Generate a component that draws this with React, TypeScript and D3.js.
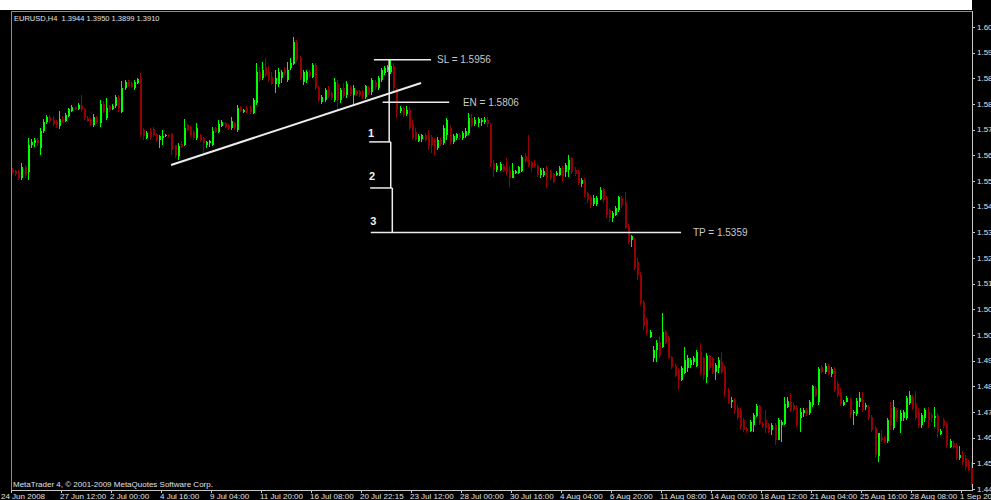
import React, { useEffect, useRef } from 'react';
import * as d3 from 'd3';

// EURUSD H4 bars, 24 Jun 2008 -> 1 Sep 2008
const opens = [
  1.5574, 1.5570, 1.5567, 1.5546, 1.5584, 1.5567, 1.5660, 1.5666, 1.5677, 1.5649,
  1.5708, 1.5738, 1.5756, 1.5745, 1.5738, 1.5725, 1.5749, 1.5742, 1.5759, 1.5776,
  1.5790, 1.5783, 1.5797, 1.5783, 1.5752, 1.5745, 1.5728, 1.5756, 1.5735, 1.5800,
  1.5752, 1.5793, 1.5783, 1.5793, 1.5821, 1.5773, 1.5855, 1.5876, 1.5872, 1.5855,
  1.5872, 1.5886, 1.5711, 1.5684, 1.5708, 1.5714, 1.5697, 1.5677, 1.5684, 1.5690,
  1.5694, 1.5697, 1.5660, 1.5622, 1.5663, 1.5660, 1.5728, 1.5721, 1.5704, 1.5684,
  1.5694, 1.5684, 1.5660, 1.5666, 1.5660, 1.5718, 1.5704, 1.5725, 1.5735, 1.5728,
  1.5718, 1.5735, 1.5711, 1.5790, 1.5773, 1.5787, 1.5787, 1.5769, 1.5804, 1.5910,
  1.5890, 1.5927, 1.5910, 1.5893, 1.5869, 1.5869, 1.5890, 1.5917, 1.5883, 1.5924,
  1.5937, 1.6013, 1.5958, 1.5876, 1.5883, 1.5910, 1.5893, 1.5934, 1.5855, 1.5807,
  1.5814, 1.5852, 1.5838, 1.5814, 1.5869, 1.5814, 1.5855, 1.5831, 1.5859, 1.5831,
  1.5845, 1.5845, 1.5841, 1.5824, 1.5855, 1.5841, 1.5876, 1.5855, 1.5883, 1.5907,
  1.5917, 1.5910, 1.5931, 1.5841, 1.5776, 1.5787, 1.5766, 1.5780, 1.5732, 1.5704,
  1.5673, 1.5680, 1.5694, 1.5690, 1.5687, 1.5677, 1.5649, 1.5677, 1.5666, 1.5694,
  1.5718, 1.5670, 1.5684, 1.5694, 1.5684, 1.5690, 1.5701, 1.5752, 1.5732, 1.5735,
  1.5738, 1.5738, 1.5745, 1.5728, 1.5598, 1.5574, 1.5574, 1.5588, 1.5588, 1.5574,
  1.5546, 1.5564, 1.5564, 1.5570, 1.5622, 1.5608, 1.5601, 1.5598, 1.5588, 1.5557,
  1.5557, 1.5581, 1.5567, 1.5560, 1.5557, 1.5557, 1.5581, 1.5567, 1.5574, 1.5615,
  1.5574, 1.5567, 1.5526, 1.5540, 1.5495, 1.5481, 1.5457, 1.5457, 1.5474, 1.5509,
  1.5478, 1.5437, 1.5409, 1.5420, 1.5437, 1.5478, 1.5464, 1.5382, 1.5334, 1.5334,
  1.5258, 1.5214, 1.5121, 1.5059, 1.5001, 1.4929, 1.4957, 1.4984, 1.4967, 1.5018,
  1.5001, 1.4933, 1.4902, 1.4888, 1.4854, 1.4878, 1.4895, 1.4905, 1.4915, 1.4902,
  1.4950, 1.4929, 1.4864, 1.4936, 1.4929, 1.4881, 1.4895, 1.4915, 1.4898, 1.4819,
  1.4778, 1.4785, 1.4758, 1.4751, 1.4716, 1.4689, 1.4679, 1.4699, 1.4730, 1.4764,
  1.4703, 1.4716, 1.4703, 1.4682, 1.4699, 1.4648, 1.4699, 1.4703, 1.4761, 1.4778,
  1.4768, 1.4758, 1.4723, 1.4740, 1.4751, 1.4740, 1.4768, 1.4826, 1.4778, 1.4898,
  1.4881, 1.4902, 1.4874, 1.4891, 1.4840, 1.4812, 1.4768, 1.4778, 1.4788, 1.4740,
  1.4737, 1.4778, 1.4785, 1.4761, 1.4761, 1.4727, 1.4689, 1.4593, 1.4658, 1.4655,
  1.4644, 1.4758, 1.4689, 1.4751, 1.4713, 1.4723, 1.4723, 1.4775, 1.4795, 1.4775,
  1.4744, 1.4699, 1.4723, 1.4744, 1.4734, 1.4723, 1.4734, 1.4668, 1.4716, 1.4703,
  1.4624, 1.4638, 1.4631, 1.4586, 1.4596, 1.4586, 1.4572, 1.4552,
];

const highs = [
  1.5581, 1.5574, 1.5574, 1.5598, 1.5591, 1.5684, 1.5680, 1.5684, 1.5684, 1.5718,
  1.5749, 1.5762, 1.5762, 1.5759, 1.5745, 1.5776, 1.5759, 1.5769, 1.5787, 1.5797,
  1.5793, 1.5804, 1.5831, 1.5787, 1.5759, 1.5752, 1.5766, 1.5759, 1.5814, 1.5811,
  1.5821, 1.5797, 1.5800, 1.5831, 1.5831, 1.5879, 1.5883, 1.5883, 1.5879, 1.5883,
  1.5890, 1.5907, 1.5718, 1.5708, 1.5718, 1.5721, 1.5701, 1.5694, 1.5711, 1.5697,
  1.5697, 1.5701, 1.5660, 1.5666, 1.5673, 1.5749, 1.5732, 1.5728, 1.5711, 1.5735,
  1.5697, 1.5687, 1.5673, 1.5677, 1.5721, 1.5721, 1.5745, 1.5745, 1.5738, 1.5732,
  1.5756, 1.5738, 1.5797, 1.5793, 1.5783, 1.5793, 1.5793, 1.5821, 1.5941, 1.5927,
  1.5944, 1.5958, 1.5931, 1.5910, 1.5917, 1.5924, 1.5917, 1.5927, 1.5944, 1.5958,
  1.6030, 1.6020, 1.5965, 1.5917, 1.5917, 1.5917, 1.5941, 1.5941, 1.5862, 1.5831,
  1.5855, 1.5862, 1.5845, 1.5890, 1.5883, 1.5855, 1.5872, 1.5879, 1.5865, 1.5865,
  1.5848, 1.5848, 1.5848, 1.5865, 1.5862, 1.5890, 1.5883, 1.5896, 1.5924, 1.5931,
  1.5934, 1.5951, 1.5941, 1.5855, 1.5793, 1.5793, 1.5793, 1.5790, 1.5745, 1.5718,
  1.5697, 1.5697, 1.5701, 1.5711, 1.5694, 1.5684, 1.5687, 1.5684, 1.5728, 1.5752,
  1.5728, 1.5697, 1.5701, 1.5701, 1.5708, 1.5718, 1.5769, 1.5766, 1.5756, 1.5756,
  1.5752, 1.5756, 1.5756, 1.5735, 1.5608, 1.5598, 1.5601, 1.5595, 1.5615, 1.5588,
  1.5598, 1.5574, 1.5588, 1.5625, 1.5632, 1.5694, 1.5605, 1.5608, 1.5595, 1.5581,
  1.5581, 1.5588, 1.5574, 1.5564, 1.5570, 1.5588, 1.5588, 1.5598, 1.5625, 1.5618,
  1.5584, 1.5574, 1.5546, 1.5546, 1.5498, 1.5488, 1.5488, 1.5485, 1.5516, 1.5513,
  1.5485, 1.5444, 1.5433, 1.5450, 1.5485, 1.5485, 1.5498, 1.5389, 1.5351, 1.5341,
  1.5272, 1.5224, 1.5128, 1.5066, 1.5025, 1.4970, 1.4991, 1.5005, 1.5083, 1.5025,
  1.5005, 1.4936, 1.4908, 1.4895, 1.4902, 1.4967, 1.4939, 1.4929, 1.4936, 1.4957,
  1.4981, 1.4933, 1.4946, 1.4939, 1.4933, 1.4912, 1.4933, 1.4950, 1.4905, 1.4826,
  1.4795, 1.4792, 1.4768, 1.4758, 1.4723, 1.4692, 1.4716, 1.4740, 1.4771, 1.4768,
  1.4710, 1.4751, 1.4706, 1.4706, 1.4706, 1.4723, 1.4716, 1.4795, 1.4795, 1.4809,
  1.4775, 1.4768, 1.4758, 1.4758, 1.4758, 1.4785, 1.4836, 1.4833, 1.4898, 1.4905,
  1.4912, 1.4908, 1.4898, 1.4898, 1.4850, 1.4826, 1.4785, 1.4799, 1.4795, 1.4751,
  1.4792, 1.4812, 1.4812, 1.4775, 1.4768, 1.4734, 1.4696, 1.4672, 1.4682, 1.4662,
  1.4723, 1.4778, 1.4785, 1.4758, 1.4751, 1.4751, 1.4799, 1.4816, 1.4802, 1.4816,
  1.4758, 1.4740, 1.4758, 1.4761, 1.4740, 1.4761, 1.4740, 1.4686, 1.4723, 1.4710,
  1.4651, 1.4644, 1.4638, 1.4627, 1.4610, 1.4596, 1.4579, 1.4572,
];

const lows = [
  1.5564, 1.5553, 1.5540, 1.5540, 1.5546, 1.5540, 1.5649, 1.5653, 1.5656, 1.5625,
  1.5701, 1.5732, 1.5735, 1.5725, 1.5718, 1.5714, 1.5735, 1.5738, 1.5756, 1.5773,
  1.5780, 1.5780, 1.5773, 1.5745, 1.5738, 1.5725, 1.5721, 1.5732, 1.5721, 1.5769,
  1.5745, 1.5773, 1.5780, 1.5787, 1.5773, 1.5769, 1.5848, 1.5859, 1.5855, 1.5848,
  1.5869, 1.5687, 1.5677, 1.5680, 1.5677, 1.5687, 1.5670, 1.5649, 1.5660, 1.5687,
  1.5687, 1.5625, 1.5615, 1.5608, 1.5649, 1.5656, 1.5708, 1.5687, 1.5677, 1.5677,
  1.5670, 1.5632, 1.5649, 1.5653, 1.5656, 1.5701, 1.5701, 1.5721, 1.5718, 1.5711,
  1.5711, 1.5711, 1.5704, 1.5773, 1.5769, 1.5769, 1.5766, 1.5766, 1.5797, 1.5876,
  1.5883, 1.5893, 1.5876, 1.5865, 1.5838, 1.5859, 1.5872, 1.5900, 1.5876, 1.5917,
  1.5934, 1.5944, 1.5883, 1.5865, 1.5872, 1.5890, 1.5890, 1.5848, 1.5807, 1.5800,
  1.5807, 1.5821, 1.5814, 1.5807, 1.5780, 1.5804, 1.5821, 1.5821, 1.5828, 1.5797,
  1.5828, 1.5824, 1.5817, 1.5817, 1.5831, 1.5831, 1.5848, 1.5848, 1.5876, 1.5900,
  1.5910, 1.5903, 1.5841, 1.5752, 1.5769, 1.5756, 1.5759, 1.5711, 1.5677, 1.5673,
  1.5670, 1.5670, 1.5670, 1.5643, 1.5632, 1.5625, 1.5643, 1.5656, 1.5660, 1.5677,
  1.5660, 1.5663, 1.5677, 1.5677, 1.5677, 1.5684, 1.5694, 1.5721, 1.5725, 1.5721,
  1.5725, 1.5732, 1.5721, 1.5584, 1.5550, 1.5567, 1.5570, 1.5567, 1.5557, 1.5516,
  1.5546, 1.5560, 1.5560, 1.5567, 1.5598, 1.5584, 1.5567, 1.5584, 1.5550, 1.5546,
  1.5550, 1.5513, 1.5540, 1.5529, 1.5553, 1.5553, 1.5536, 1.5550, 1.5550, 1.5560,
  1.5553, 1.5522, 1.5516, 1.5481, 1.5461, 1.5444, 1.5450, 1.5450, 1.5471, 1.5461,
  1.5409, 1.5396, 1.5396, 1.5416, 1.5430, 1.5444, 1.5372, 1.5320, 1.5310, 1.5231,
  1.5197, 1.5111, 1.5025, 1.5008, 1.4998, 1.4915, 1.4915, 1.4929, 1.4963, 1.4977,
  1.4926, 1.4891, 1.4864, 1.4819, 1.4850, 1.4874, 1.4881, 1.4895, 1.4905, 1.4898,
  1.4871, 1.4854, 1.4843, 1.4888, 1.4874, 1.4854, 1.4878, 1.4874, 1.4795, 1.4771,
  1.4758, 1.4737, 1.4716, 1.4682, 1.4675, 1.4672, 1.4675, 1.4675, 1.4727, 1.4699,
  1.4689, 1.4672, 1.4672, 1.4665, 1.4631, 1.4648, 1.4641, 1.4699, 1.4758, 1.4744,
  1.4744, 1.4692, 1.4675, 1.4727, 1.4730, 1.4734, 1.4761, 1.4795, 1.4768, 1.4878,
  1.4874, 1.4871, 1.4864, 1.4812, 1.4795, 1.4764, 1.4764, 1.4778, 1.4723, 1.4699,
  1.4730, 1.4761, 1.4744, 1.4751, 1.4716, 1.4675, 1.4586, 1.4572, 1.4641, 1.4638,
  1.4638, 1.4682, 1.4682, 1.4710, 1.4672, 1.4713, 1.4716, 1.4768, 1.4751, 1.4716,
  1.4689, 1.4689, 1.4710, 1.4689, 1.4710, 1.4692, 1.4655, 1.4665, 1.4689, 1.4620,
  1.4620, 1.4617, 1.4579, 1.4579, 1.4562, 1.4545, 1.4541, 1.4487,
];

const closes = [
  1.5567, 1.5560, 1.5546, 1.5584, 1.5557, 1.5660, 1.5670, 1.5677, 1.5666, 1.5708,
  1.5738, 1.5756, 1.5742, 1.5732, 1.5728, 1.5749, 1.5742, 1.5762, 1.5783, 1.5790,
  1.5783, 1.5797, 1.5780, 1.5752, 1.5742, 1.5735, 1.5756, 1.5738, 1.5800, 1.5776,
  1.5787, 1.5780, 1.5793, 1.5824, 1.5787, 1.5855, 1.5876, 1.5862, 1.5859, 1.5876,
  1.5886, 1.5694, 1.5690, 1.5701, 1.5684, 1.5694, 1.5677, 1.5690, 1.5690, 1.5694,
  1.5690, 1.5643, 1.5625, 1.5656, 1.5653, 1.5718, 1.5711, 1.5694, 1.5684, 1.5718,
  1.5677, 1.5666, 1.5670, 1.5673, 1.5708, 1.5704, 1.5732, 1.5738, 1.5721, 1.5714,
  1.5742, 1.5718, 1.5787, 1.5776, 1.5780, 1.5773, 1.5773, 1.5814, 1.5910, 1.5883,
  1.5917, 1.5900, 1.5883, 1.5869, 1.5890, 1.5910, 1.5910, 1.5907, 1.5917, 1.5941,
  1.6013, 1.5951, 1.5890, 1.5910, 1.5910, 1.5896, 1.5934, 1.5855, 1.5814, 1.5824,
  1.5848, 1.5828, 1.5821, 1.5876, 1.5814, 1.5848, 1.5828, 1.5869, 1.5835, 1.5855,
  1.5835, 1.5831, 1.5824, 1.5862, 1.5838, 1.5883, 1.5859, 1.5890, 1.5917, 1.5924,
  1.5927, 1.5931, 1.5855, 1.5780, 1.5787, 1.5762, 1.5780, 1.5718, 1.5684, 1.5680,
  1.5690, 1.5694, 1.5677, 1.5660, 1.5660, 1.5649, 1.5677, 1.5663, 1.5718, 1.5745,
  1.5670, 1.5690, 1.5697, 1.5684, 1.5701, 1.5708, 1.5752, 1.5728, 1.5745, 1.5749,
  1.5745, 1.5745, 1.5732, 1.5598, 1.5574, 1.5588, 1.5595, 1.5570, 1.5567, 1.5546,
  1.5570, 1.5570, 1.5584, 1.5618, 1.5605, 1.5588, 1.5581, 1.5588, 1.5557, 1.5574,
  1.5570, 1.5546, 1.5546, 1.5533, 1.5564, 1.5581, 1.5553, 1.5591, 1.5608, 1.5567,
  1.5560, 1.5529, 1.5540, 1.5492, 1.5471, 1.5454, 1.5478, 1.5478, 1.5505, 1.5471,
  1.5420, 1.5409, 1.5426, 1.5444, 1.5481, 1.5454, 1.5375, 1.5327, 1.5347, 1.5238,
  1.5214, 1.5118, 1.5039, 1.5015, 1.5018, 1.4957, 1.4981, 1.4936, 1.5018, 1.4981,
  1.4929, 1.4898, 1.4867, 1.4854, 1.4895, 1.4922, 1.4929, 1.4922, 1.4929, 1.4950,
  1.4878, 1.4871, 1.4936, 1.4895, 1.4881, 1.4905, 1.4922, 1.4881, 1.4819, 1.4775,
  1.4785, 1.4751, 1.4723, 1.4692, 1.4682, 1.4679, 1.4710, 1.4734, 1.4764, 1.4706,
  1.4696, 1.4689, 1.4675, 1.4699, 1.4648, 1.4716, 1.4710, 1.4771, 1.4782, 1.4751,
  1.4751, 1.4699, 1.4744, 1.4751, 1.4737, 1.4778, 1.4833, 1.4799, 1.4891, 1.4881,
  1.4902, 1.4874, 1.4891, 1.4819, 1.4802, 1.4771, 1.4778, 1.4792, 1.4737, 1.4744,
  1.4782, 1.4792, 1.4751, 1.4768, 1.4723, 1.4682, 1.4596, 1.4672, 1.4648, 1.4641,
  1.4716, 1.4699, 1.4761, 1.4723, 1.4740, 1.4744, 1.4792, 1.4802, 1.4758, 1.4723,
  1.4699, 1.4734, 1.4751, 1.4716, 1.4723, 1.4730, 1.4675, 1.4679, 1.4696, 1.4631,
  1.4644, 1.4624, 1.4586, 1.4596, 1.4572, 1.4555, 1.4545, 1.4497,
];

// time axis labels sit on every 16th bar
const timeTickBars = [0, 16, 32, 48, 64, 80, 96, 112, 128, 144, 160, 176, 192, 208, 224, 240, 256, 272, 288, 304];
const timeLabels = [
  '24 Jun 2008', '27 Jun 12:00', '2 Jul 00:00', '4 Jul 16:00', '9 Jul 04:00',
  '11 Jul 20:00', '16 Jul 08:00', '20 Jul 22:15', '23 Jul 12:00', '28 Jul 00:00',
  '30 Jul 16:00', '4 Aug 04:00', '6 Aug 20:00', '11 Aug 08:00', '14 Aug 00:00',
  '18 Aug 12:00', '21 Aug 04:00', '25 Aug 16:00', '28 Aug 08:00', '1 Sep 20:00',
];

const priceTicks = [
  1.4480, 1.4568, 1.4656, 1.4744, 1.4832, 1.4920, 1.5008, 1.5096, 1.5184, 1.5272,
  1.5360, 1.5448, 1.5536, 1.5624, 1.5712, 1.5800, 1.5888, 1.5976, 1.6064,
];

const headerText = 'EURUSD,H4  1.3944 1.3950 1.3899 1.3910';
const copyrightText = 'MetaTrader 4, \u00a9 2001-2009 MetaQuotes Software Corp.';

// hand drawn objects, in [bar, price]
const trendFrom = [50.9, 1.5591];
const trendTo = [130.9, 1.5872];

const levelNames = ['SL = 1.5956', 'EN = 1.5806', 'TP = 1.5359'];
const levelPrices = [1.5952, 1.5806, 1.5359];
const levelFrom = [115.8, 118.6, 114.8];
const levelTo = [134.1, 139.9, 214.1];
const levelTextBar = [136.0, 144.3, 217.9];

// the stair from SL down to TP
const stepPrices = [1.5952, 1.5670, 1.5512, 1.5359];
const stepBars = [120.7, 121.2, 121.7];
const stepTickFrom = [114.3, 114.6];
const stepNames = ['1', '2', '3'];
const stepNamePrices = [1.5687, 1.5540, 1.5385];
const stepNameBars = [113.9, 114.2, 114.6];

const UP = '#00ff00';
const DOWN = '#960000';
const TEXT = '#e0e0e0';
const FONT = "'Liberation Sans', Arial, sans-serif";

const draw = (node) => {
  const svg = d3.select(node);
  svg.selectAll('*').remove();

  const width = 991;
  const height = 500;
  const left = 11;
  const right = 972;
  const top = 11;
  const bottom = 490;
  const step = 3.125;

  const x = d3
    .scaleLinear()
    .domain([0, closes.length - 1])
    .range([12, 12 + step * (closes.length - 1)]);

  const y = d3.scaleLinear().domain([1.4476, 1.6119]).range([bottom, top]);

  svg.append('rect').attr('width', width).attr('height', height).attr('fill', '#000');
  svg.append('rect').attr('width', right).attr('height', 10).attr('fill', '#fff');

  // frame
  const frame = svg.append('g').attr('shape-rendering', 'crispEdges');
  frame.append('line').attr('x1', left).attr('x2', left).attr('y1', top).attr('y2', bottom).attr('stroke', '#8c8c8c');
  frame.append('line').attr('x1', left).attr('x2', right).attr('y1', top).attr('y2', top).attr('stroke', '#8c8c8c');
  frame.append('line').attr('x1', right).attr('x2', right).attr('y1', top).attr('y2', bottom + 1).attr('stroke', '#c8c8c8');
  frame.append('line').attr('x1', left).attr('x2', right).attr('y1', bottom).attr('y2', bottom).attr('stroke', '#c8c8c8');

  // candles
  const idx = d3.range(closes.length);
  const g = svg.append('g').attr('shape-rendering', 'crispEdges');
  g.selectAll('rect.wick')
    .data(idx)
    .join('rect')
    .attr('class', 'wick')
    .attr('x', i => Math.round(x(i)))
    .attr('y', i => y(highs[i]))
    .attr('width', 1)
    .attr('height', i => Math.max(1, y(lows[i]) - y(highs[i])))
    .attr('fill', i => (closes[i] >= opens[i] ? UP : DOWN));
  g.selectAll('rect.body')
    .data(idx)
    .join('rect')
    .attr('class', 'body')
    .attr('x', i => Math.round(x(i)))
    .attr('y', i => y(Math.max(opens[i], closes[i])))
    .attr('width', 2)
    .attr('height', i => Math.max(1, Math.abs(y(opens[i]) - y(closes[i]))))
    .attr('fill', i => (closes[i] >= opens[i] ? UP : DOWN));

  // price axis
  const py = svg.append('g');
  py.selectAll('line')
    .data(priceTicks)
    .join('line')
    .attr('x1', right)
    .attr('x2', right + 3)
    .attr('y1', d => Math.round(y(d)) + 0.5)
    .attr('y2', d => Math.round(y(d)) + 0.5)
    .attr('stroke', '#c8c8c8');
  py.selectAll('text')
    .data(priceTicks)
    .join('text')
    .attr('x', right + 5)
    .attr('y', d => y(d))
    .attr('dy', '0.35em')
    .attr('fill', TEXT)
    .attr('font-family', FONT)
    .attr('font-size', 8)
    .text(d => d.toFixed(4));

  // time axis
  const tx = svg.append('g');
  tx.selectAll('line')
    .data(timeTickBars)
    .join('line')
    .attr('x1', d => Math.round(x(d)) - 0.5)
    .attr('x2', d => Math.round(x(d)) - 0.5)
    .attr('y1', bottom)
    .attr('y2', bottom + 3)
    .attr('stroke', '#c8c8c8');
  tx.selectAll('text')
    .data(timeTickBars)
    .join('text')
    .attr('x', (d, i) => (i === 0 ? 1 : Math.round(x(d)) - 2))
    .attr('y', 499)
    .attr('fill', TEXT)
    .attr('font-family', FONT)
    .attr('font-size', 8)
    .text((d, i) => timeLabels[i]);

  svg.append('text')
    .attr('x', 14)
    .attr('y', 21)
    .attr('fill', TEXT)
    .attr('font-family', FONT)
    .attr('font-size', 7.5)
    .attr('xml:space', 'preserve')
    .style('white-space', 'pre')
    .text(headerText);

  svg.append('text')
    .attr('x', 13)
    .attr('y', 487)
    .attr('fill', TEXT)
    .attr('font-family', FONT)
    .attr('font-size', 8)
    .text(copyrightText);

  // trade drawing
  const ann = svg.append('g').attr('stroke', '#ececec').attr('stroke-width', 1.5).attr('fill', 'none');
  ann.append('line')
    .attr('x1', x(trendFrom[0]))
    .attr('y1', y(trendFrom[1]))
    .attr('x2', x(trendTo[0]))
    .attr('y2', y(trendTo[1]))
    .attr('stroke-width', 2);

  levelPrices.forEach((p, k) => {
    ann.append('line')
      .attr('x1', x(levelFrom[k]))
      .attr('x2', x(levelTo[k]))
      .attr('y1', y(p))
      .attr('y2', y(p));
    svg.append('text')
      .attr('x', x(levelTextBar[k]))
      .attr('y', y(p))
      .attr('dy', '0.35em')
      .attr('fill', '#c8c8c8')
      .attr('font-family', FONT)
      .attr('font-size', 10)
      .text(levelNames[k]);
  });

  stepBars.forEach((b, k) => {
    ann.append('line')
      .attr('x1', x(b))
      .attr('x2', x(b))
      .attr('y1', y(stepPrices[k]))
      .attr('y2', y(stepPrices[k + 1]));
  });
  stepTickFrom.forEach((b, k) => {
    ann.append('line')
      .attr('x1', x(b))
      .attr('x2', x(stepBars[k + 1]))
      .attr('y1', y(stepPrices[k + 1]))
      .attr('y2', y(stepPrices[k + 1]));
  });
  stepNames.forEach((s, k) => {
    svg.append('text')
      .attr('x', x(stepNameBars[k]))
      .attr('y', y(stepNamePrices[k]))
      .attr('fill', '#f0f0f0')
      .attr('font-family', FONT)
      .attr('font-weight', 'bold')
      .attr('font-size', 11)
      .text(s);
  });
};

export default function App() {
  const ref = useRef(null);
  useEffect(() => {
    draw(ref.current);
  }, []);
  return (
    <svg
      ref={ref}
      width={991}
      height={500}
      style={{ position: 'absolute', left: 0, top: 0, display: 'block' }}
    />
  );
}
